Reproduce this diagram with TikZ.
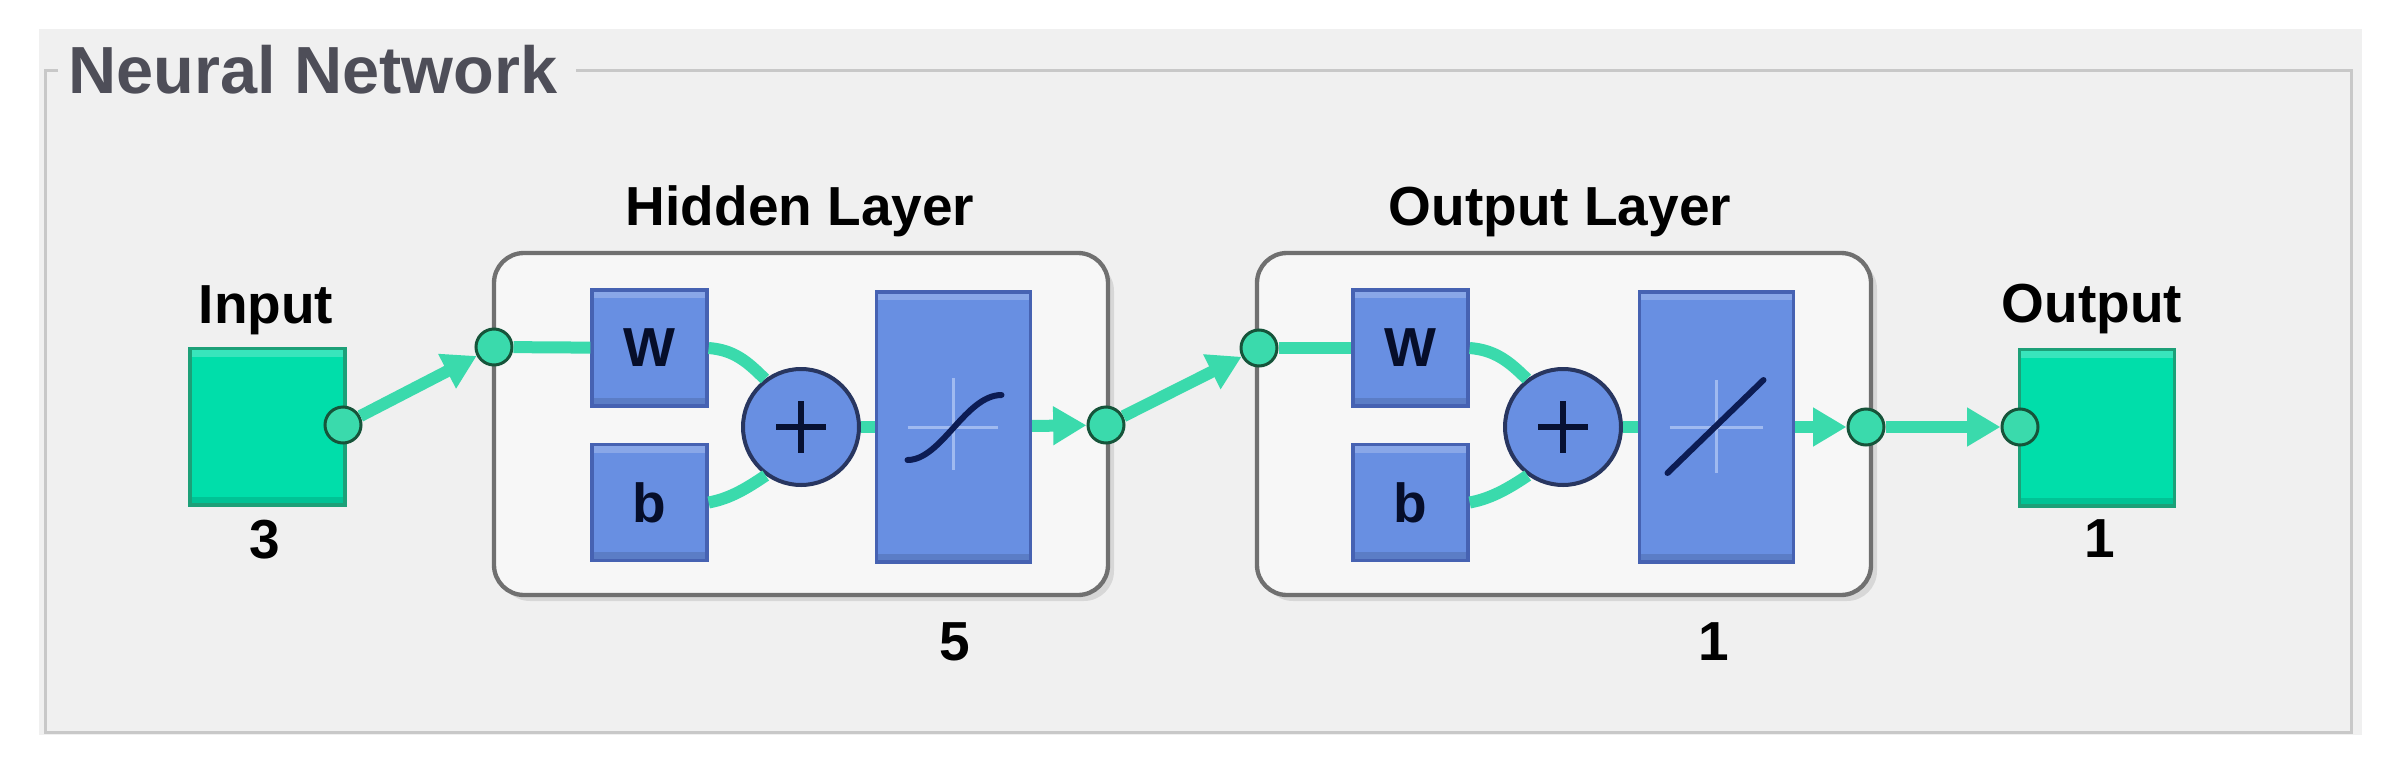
\documentclass[tikz,border=0pt]{standalone}
\usepackage{fontspec}
\setmainfont{Liberation Sans}
\usetikzlibrary{arrows.meta}

\definecolor{panelgray}{RGB}{240,240,240}
\definecolor{framegray}{RGB}{200,200,200}
\definecolor{boxfill}{RGB}{247,247,247}
\definecolor{boxline}{RGB}{112,112,112}
\definecolor{nnblue}{RGB}{104,143,226}
\definecolor{nnblueline}{RGB}{70,98,178}
\definecolor{nngreen}{RGB}{0,222,170}
\definecolor{nngreenline}{RGB}{28,160,120}
\definecolor{nnlink}{RGB}{58,218,172}
\definecolor{portline}{RGB}{22,84,58}
\definecolor{sumline}{RGB}{40,54,96}
\definecolor{curvenavy}{RGB}{12,28,84}
\definecolor{axislight}{RGB}{160,186,240}
\definecolor{titlegray}{RGB}{78,78,88}

\tikzset{
  lbl/.style={font=\fontsize{16.5}{19}\selectfont\bfseries, text=black, inner sep=0pt},
  layerbox/.style={draw=boxline, line width=1.3pt, fill=boxfill, rounded corners=9pt,
    minimum width=184.2pt, minimum height=102.6pt, inner sep=0pt},
  bevel/.style={path picture={
      \fill[white, opacity=0.22] (path picture bounding box.north west) rectangle ([yshift=-2.5pt]path picture bounding box.north east);
      \fill[black, opacity=0.12] (path picture bounding box.south west) rectangle ([yshift=2.5pt]path picture bounding box.south east);}},
  wbox/.style={draw=nnblueline, line width=1pt, fill=nnblue, bevel, minimum width=34.5pt,
    minimum height=34.8pt, inner sep=0pt, font=\fontsize{16.5}{19}\selectfont\bfseries, text=curvenavy!50!black},
  tfbox/.style={wbox, minimum width=46.2pt, minimum height=81pt},
  sumnode/.style={circle, draw=sumline, line width=1.2pt, fill=nnblue, minimum size=34.8pt, inner sep=0pt},
  iobox/.style={draw=nngreenline, line width=1pt, fill=nngreen, bevel, minimum width=46.5pt,
    minimum height=47pt, inner sep=0pt},
  port/.style={circle, draw=portline, line width=0.9pt, fill=nnlink, minimum size=10.8pt, inner sep=0pt},
  link/.style={draw=nnlink, line width=3.6pt},
  flow/.style={-{Triangle[length=10pt,width=11pt]}},
}

\begin{document}
\begin{tikzpicture}[x=0.3pt,y=-0.3pt]
      \fill[white] (0,0) rectangle (2384,770);
      \useasboundingbox (0,0) rectangle (2384,770);
      \fill[panelgray] (39,29) rectangle (2362,735);
      \draw[framegray, line width=0.9pt] (58,70) -- (45,70) -- (45,732) -- (2351,732) -- (2351,70) -- (576,70);
      \node[font=\fontsize{20}{24}\selectfont\bfseries, text=titlegray, anchor=base west, inner sep=0pt]
        (title) at (68,93) {Neural Network};

      % shadows of the layer boxes
      \fill[black, opacity=0.10, rounded corners=9pt] (500,261) rectangle (1114,601);
      \fill[black, opacity=0.10, rounded corners=9pt] (1263,259) rectangle (1877,601);
      \node[layerbox] (hid) at (801,424) {};
      \node[layerbox] (outl) at (1564,424) {};

      \node[wbox] (hw) at (649.5,348) {W};
      \node[wbox] (hb) at (649.5,502.5) {b};
      \node[sumnode] (hsum) at (801,427) {};
      \node[tfbox] (htf) at (953.5,427) {};
      \node[wbox] (ow) at (1410.5,348) {W};
      \node[wbox] (ob) at (1410.5,502.5) {b};
      \node[sumnode] (osum) at (1563,427) {};
      \node[tfbox] (otf) at (1716.5,427) {};

      \node[iobox] (insq) at (267.5,426.5) {};
      \node[iobox] (outsq) at (2097,427.5) {};

      \node[port] (inport) at (343,425) {};
      \node[port] (hin) at (494,347) {};
      \node[port] (hout) at (1106,425) {};
      \node[port] (oin) at (1259,348) {};
      \node[port] (oout) at (1866,427) {};
      \node[port] (outport) at (2020,427) {};

      \node[lbl, anchor=base] (inlbl) at (266,323) {Input};
      \node[lbl, anchor=base] (innum) at (265,558) {3};
      \node[lbl, anchor=base] (hidlbl) at (800,225) {Hidden Layer};
      \node[lbl, anchor=base] (hidnum) at (955,660) {5};
      \node[lbl, anchor=base] (outllbl) at (1560,225) {Output Layer};
      \node[lbl, anchor=base] (outlnum) at (1714,660) {1};
      \node[lbl, anchor=base] (outlbl) at (2092,322) {Output};
      \node[lbl, anchor=base] (outnum) at (2100,557) {1};

      % plus signs
      \foreach \s in {hsum,osum}
        \draw[shift={(\s)}, curvenavy!60!black, line width=2pt] (-25,0) -- (25,0) (0,-26) -- (0,26);

      % transfer functions
      \begin{scope}[shift={(htf)}]
        \draw[axislight, line width=0.9pt] (-46,0) -- (44,0) (0,-49) -- (0,43);
        \draw[curvenavy, line width=1.8pt, line cap=round] (-46,33) .. controls (-12,33) and (12,-32) .. (48,-32);
      \end{scope}
      \begin{scope}[shift={(otf)}]
        \draw[axislight, line width=0.9pt] (-47,0) -- (46,0) (0,-47) -- (0,46);
        \draw[curvenavy, line width=1.8pt, line cap=round] (-49,46) -- (47,-47);
      \end{scope}

      \begin{scope}[link]
        \draw[flow] (inport) to (hin);
        \draw (hin) to (hw);
        \draw (hw.east) .. controls +(25,2) and +(-18,-18) .. (hsum.127);
        \draw (hb.east) .. controls +(22,-4) and +(-18,12) .. (hsum.234);
        \draw (hsum) to (htf);
        \draw[flow] (htf) to (hout);
        \draw[flow] (hout) to (oin);
        \draw (oin) to (ow);
        \draw (ow.east) .. controls +(25,2) and +(-18,-18) .. (osum.127);
        \draw (ob.east) .. controls +(22,-4) and +(-18,12) .. (osum.234);
        \draw (osum) to (otf);
        \draw[flow] (otf) to (oout);
        \draw[flow] (oout) to (outport);
      \end{scope}
    \end{tikzpicture}
\end{document}
